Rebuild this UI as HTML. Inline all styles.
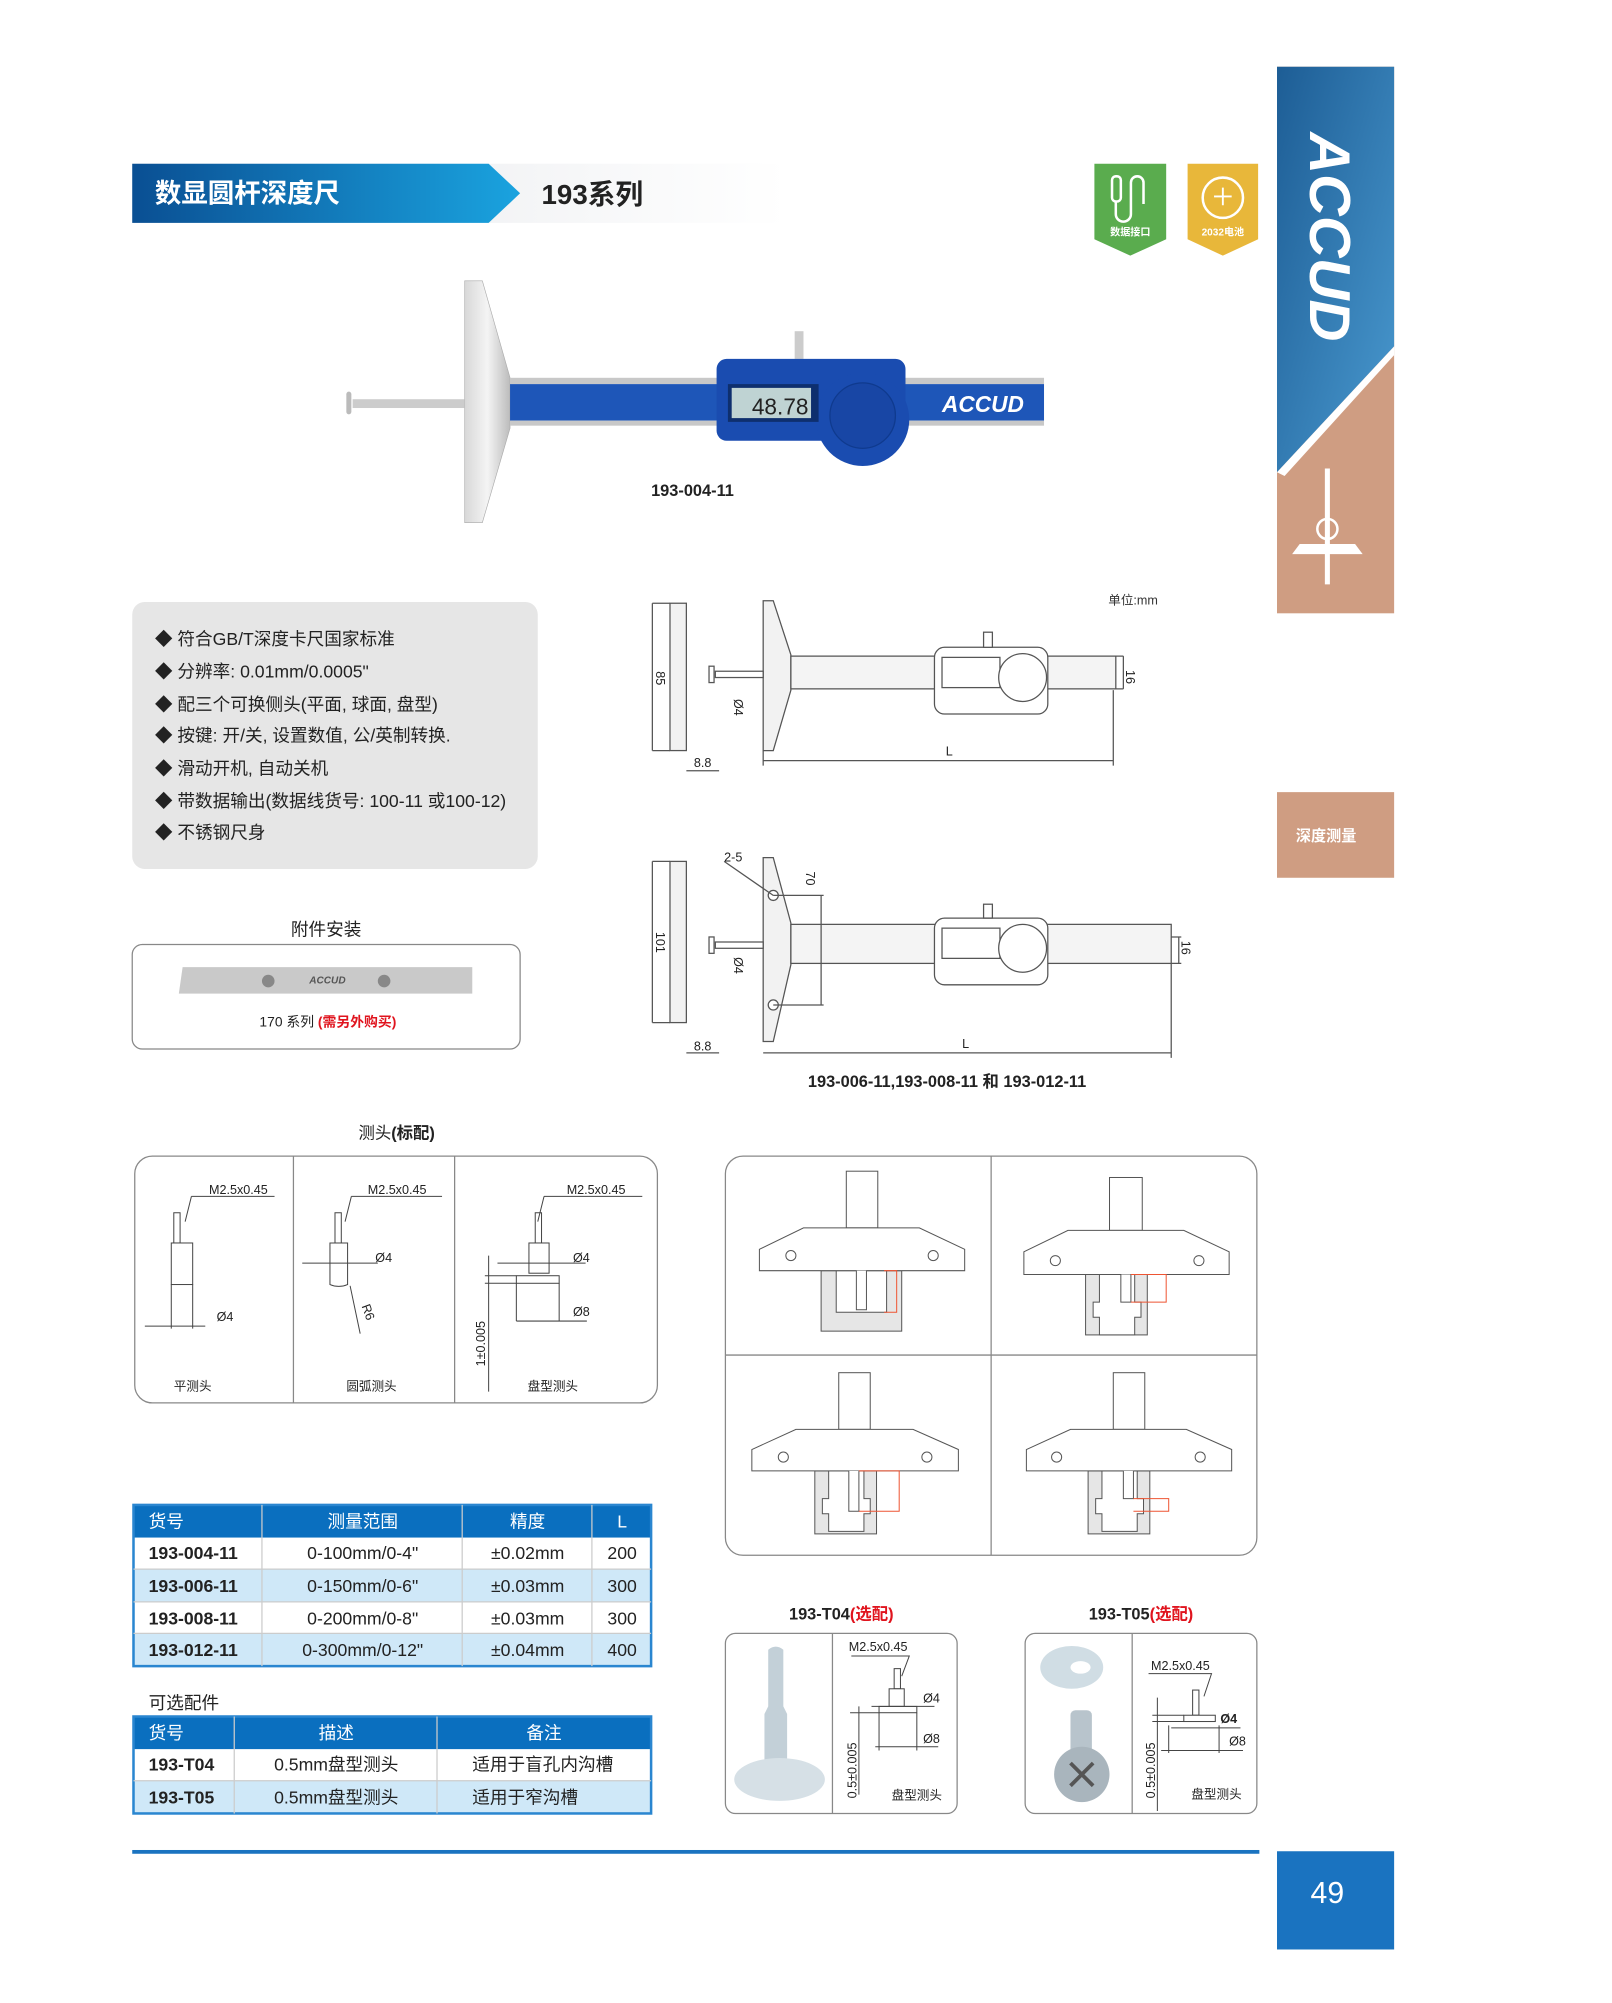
<!DOCTYPE html>
<html><head><meta charset="utf-8"><style>
html,body{margin:0;padding:0;background:#fff}
svg{display:block}
text{font-family:"Liberation Sans","Noto Sans CJK SC",sans-serif}
</style></head><body>
<svg width="1612" height="2003" viewBox="0 0 1280 1590.5" preserveAspectRatio="none" xmlns="http://www.w3.org/2000/svg">
<defs>
<linearGradient id="hb" x1="0" x2="1"><stop offset="0" stop-color="#0a4f93"/><stop offset="1" stop-color="#1aa3df"/></linearGradient>
<linearGradient id="hg" x1="0" x2="1"><stop offset="0" stop-color="#e4e6ea"/><stop offset="1" stop-color="#ffffff"/></linearGradient>
<linearGradient id="sb" x1="0" x2="1" y1="0" y2="1"><stop offset="0" stop-color="#1d5d95"/><stop offset="1" stop-color="#4a9ad0"/></linearGradient>
<linearGradient id="pl" x1="0" x2="1"><stop offset="0" stop-color="#d8d8d8"/><stop offset="0.5" stop-color="#f4f4f4"/><stop offset="1" stop-color="#bcbcbc"/></linearGradient>
</defs>
<rect x="105" y="130" width="520" height="47" fill="url(#hg)"/>
<polygon points="105,130 388,130 413,153.5 388,177 105,177" fill="url(#hb)"/>
<text x="123" y="161" font-size="21" font-weight="bold" fill="#fff">数显圆杆深度尺</text>
<text x="430" y="162" font-size="22" font-weight="bold" fill="#222">193系列</text>
<polygon points="869,130 926,130 926,190 897.5,203 869,190" fill="#5aac4e"/>
<rect x="883" y="140" width="7" height="20" rx="3" fill="none" stroke="#fff" stroke-width="2"/>
<path d="M886,160 v10 a6,6 0 0 0 12,0 v-25 a5,5 0 0 1 10,0 v17" fill="none" stroke="#fff" stroke-width="2"/>
<text x="897.5" y="187" font-size="8" fill="#fff" text-anchor="middle" font-weight="bold">数据接口</text>
<polygon points="943,130 999,130 999,190 971,203 943,190" fill="#e8b73a"/>
<circle cx="971" cy="157" r="16" fill="none" stroke="#fff" stroke-width="2"/>
<path d="M971,149 v14 M964,156 h14" stroke="#fff" stroke-width="1.5"/>
<text x="971" y="187" font-size="8" fill="#fff" text-anchor="middle" font-weight="bold">2032电池</text>
<rect x="1014" y="53" width="93" height="434" fill="#cf9d82"/>
<polygon points="1014,53 1107,53 1107,275 1014,375" fill="url(#sb)"/>
<polygon points="1014,375 1107,275 1107,282 1020,378" fill="#fff"/>
<text transform="translate(1040,105) rotate(90)" font-size="46" font-weight="bold" font-style="italic" fill="#fff">ACCUD</text>
<path d="M1054,372 v92" stroke="#fff" stroke-width="4"/>
<path d="M1026,440 h56 l-6,-8 h-44 z" fill="#fff"/>
<circle cx="1054" cy="420" r="8" fill="none" stroke="#fff" stroke-width="2"/>
<rect x="1014" y="629" width="93" height="68" fill="#cf9d82"/>
<text x="1053" y="668" font-size="12" fill="#fff" text-anchor="middle" font-weight="bold">深度测量</text>
<rect x="1014" y="1470" width="93" height="78" fill="#1a73c0"/>
<text x="1054" y="1511" font-size="24" fill="#fff" text-anchor="middle">49</text>
<rect x="105" y="1469" width="895" height="3" fill="#1a73c0"/>
<polygon points="369,223 383,223 405,300 405,340 383,415 369,415" fill="url(#pl)" stroke="#aaa" stroke-width="0.5"/>
<rect x="280" y="317" width="89" height="7" fill="#ccc"/>
<rect x="275" y="311" width="4" height="18" rx="2" fill="#bbb"/>
<rect x="405" y="300" width="424" height="5" fill="#c8c8c8"/>
<rect x="405" y="305" width="424" height="29" fill="#1e56b8"/>
<rect x="405" y="334" width="424" height="4" fill="#c8c8c8"/>
<rect x="631" y="263" width="7" height="22" fill="#ccc"/>
<rect x="569" y="285" width="150" height="65" rx="8" fill="#1a4cb0"/>
<circle cx="685" cy="333" r="37" fill="#1a4cb0"/>
<circle cx="685" cy="330" r="26" fill="#1846a5" stroke="#0f3a8e"/>
<rect x="578" y="305" width="72" height="30" fill="#0e2f6e"/>
<rect x="581" y="308" width="63" height="24" fill="#bfd3d3"/>
<text x="597" y="329" font-size="18" fill="#222">48.78</text>
<text x="748" y="327" font-size="18" font-weight="bold" font-style="italic" fill="#fff">ACCUD</text>
<text x="517" y="394" font-size="13" font-weight="bold" fill="#222">193-004-11</text>
<rect x="105" y="478" width="322" height="212" rx="10" fill="#e6e6e6"/>
<g font-size="14" fill="#222">
<text x="123" y="512">◆ 符合GB/T深度卡尺国家标准</text>
<text x="123" y="538">◆ 分辨率: 0.01mm/0.0005"</text>
<text x="123" y="564">◆ 配三个可换侧头(平面, 球面, 盘型)</text>
<text x="123" y="589">◆ 按键: 开/关, 设置数值, 公/英制转换.</text>
<text x="123" y="615">◆ 滑动开机, 自动关机</text>
<text x="123" y="641">◆ 带数据输出(数据线货号: 100-11 或100-12)</text>
<text x="123" y="666">◆ 不锈钢尺身</text>
</g>
<text x="259" y="743" font-size="14" fill="#222" text-anchor="middle">附件安装</text>
<rect x="105" y="750" width="308" height="83" rx="8" fill="#fff" stroke="#888"/>
<polygon points="145,768 375,768 375,789 142,789" fill="#c9c9c9"/>
<circle cx="213" cy="779" r="5" fill="#888"/><circle cx="305" cy="779" r="5" fill="#888"/>
<text x="260" y="781" font-size="8" font-weight="bold" font-style="italic" fill="#555" text-anchor="middle">ACCUD</text>
<text x="206" y="815" font-size="11" fill="#222">170 系列 <tspan fill="#e0141e" font-weight="bold">(需另外购买)</tspan></text>
<g stroke="#555" stroke-width="1" fill="#fff">
<text x="880" y="480" font-size="10" fill="#333" stroke="none">单位:mm</text>
<rect x="532" y="479" width="13" height="117" fill="#f2f2f2"/>
<path d="M518,479 v117 M518,479 h14 M518,596 h14" fill="none"/>
<polygon points="606,477 614,477 628,520 628,548 614,596 606,596" fill="#f2f2f2"/>
<rect x="568" y="533" width="38" height="5"/><rect x="563" y="529" width="4" height="13"/>
<rect x="628" y="521" width="258" height="26" fill="#f4f4f4"/>
<rect x="742" y="514" width="90" height="53" rx="8"/>
<rect x="748" y="522" width="46" height="24"/><circle cx="812" cy="538" r="19"/>
<rect x="781" y="502" width="7" height="12"/>
<path d="M545,612 h26 M606,604 h278 M606,596 v12 M884,548 v60 M886,521 h6 M886,547 h6 M892,521 v26" fill="none"/>
</g>
<g font-size="10" fill="#222">
<text transform="translate(521,533) rotate(90)">85</text>
<text transform="translate(583,555) rotate(90)">Ø4</text>
<text x="551" y="609">8.8</text><text x="751" y="600">L</text>
<text transform="translate(894,532) rotate(90)">16</text>
</g>
<g stroke="#555" stroke-width="1" fill="#fff">
<rect x="532" y="684" width="13" height="128" fill="#f2f2f2"/>
<path d="M518,684 v128 M518,684 h14 M518,812 h14" fill="none"/>
<polygon points="606,681 614,681 628,733 628,766 614,827 606,827" fill="#f2f2f2"/>
<rect x="568" y="748" width="38" height="5"/><rect x="563" y="744" width="4" height="13"/>
<rect x="628" y="734" width="302" height="31" fill="#f4f4f4"/>
<rect x="742" y="729" width="90" height="53" rx="8"/>
<rect x="748" y="737" width="46" height="24"/><circle cx="812" cy="753" r="19"/>
<rect x="781" y="718" width="7" height="11"/>
<circle cx="614" cy="711" r="4"/><circle cx="614" cy="798" r="4"/>
<path d="M614,711 h40 M614,798 h40 M652,711 v87 M545,836 h26 M606,836 h324 M930,765 v75 M930,744 h8 M930,765 h8 M936,744 v21 M575,684 l39,27" fill="none"/>
</g>
<g font-size="10" fill="#222">
<text transform="translate(521,740) rotate(90)">101</text>
<text transform="translate(583,760) rotate(90)">Ø4</text>
<text x="551" y="834">8.8</text><text x="764" y="832">L</text>
<text x="575" y="684">2-5</text>
<text transform="translate(640,692) rotate(90)">70</text>
<text transform="translate(938,747) rotate(90)">16</text>
</g>
<text x="752" y="863" font-size="13" font-weight="bold" fill="#222" text-anchor="middle">193-006-11,193-008-11 和 193-012-11</text>
<text x="315" y="904" font-size="13" fill="#222" text-anchor="middle">测头<tspan font-weight="bold">(标配)</tspan></text>
<rect x="107" y="918" width="415" height="196" rx="14" fill="#fff" stroke="#888"/>
<path d="M233,918 v196 M361,918 v196" stroke="#888"/>
<g stroke="#444" stroke-width="0.8" fill="#fff">
<rect x="138" y="963" width="5" height="24"/><rect x="136" y="987" width="17" height="33"/>
<path d="M136,1020 v35 M153,1020 v35 M115,1053 h48 M152,950 h66 M152,950 l-5,20" fill="none"/>
<rect x="266" y="963" width="5" height="24"/><path d="M262,987 h14 v33 q-7,3 -14,0 z"/>
<path d="M240,1003 h60 M278,1021 l8,38 M279,950 h72 M279,950 l-5,20" fill="none"/>
<rect x="425" y="963" width="5" height="24"/><rect x="420" y="987" width="16" height="24"/><rect x="410" y="1013" width="34" height="6"/>
<path d="M395,1003 h70 M410,1019 v30 M444,1019 v30 M410,1049 h56 M388,997 v108 M385,1013 h25 M385,1019 h25 M432,950 h78 M432,950 l-5,20" fill="none"/>
</g>
<g font-size="10" fill="#222">
<text x="166" y="948">M2.5x0.45</text><text x="172" y="1049">Ø4</text><text x="138" y="1104">平测头</text>
<text x="292" y="948">M2.5x0.45</text><text x="298" y="1002">Ø4</text>
<text transform="translate(287,1037) rotate(70)">R6</text><text x="275" y="1104">圆弧测头</text>
<text x="450" y="948">M2.5x0.45</text><text x="455" y="1002">Ø4</text><text x="455" y="1045">Ø8</text>
<text transform="translate(385,1085) rotate(-90)">1±0.005</text><text x="419" y="1104">盘型测头</text>
</g>
<rect x="576" y="918" width="422" height="317" rx="14" fill="#fff" stroke="#888"/>
<path d="M787,918 v317 M576,1076 h422" stroke="#888"/>
<g stroke="#555" stroke-width="0.8" fill="#fff">
<g><rect x="652" y="1009" width="64" height="48" fill="#e6e6e6"/><rect x="664" y="1009" width="40" height="33"/>
<rect x="672" y="930" width="25" height="45"/><polygon points="638,975 730,975 766,992 766,1009 603,1009 603,992"/>
<circle cx="628" cy="997" r="4"/><circle cx="741" cy="997" r="4"/><path d="M680,1009 v31 h8 v-31" /><path d="M702,1009 h10 v33 h-10" stroke="#e53" fill="none"/></g>
<g><rect x="862" y="1012" width="49" height="48" fill="#e6e6e6"/><path d="M873,1012 v22 h-5 v12 h5 v14 h28 v-14 h5 v-12 h-5 v-22 z"/>
<rect x="881" y="935" width="26" height="42"/><polygon points="848,977 940,977 976,994 976,1012 813,1012 813,994"/>
<circle cx="838" cy="1001" r="4"/><circle cx="952" cy="1001" r="4"/><path d="M890,1012 v22 h8 v-22" /><path d="M898,1012 h28 v22 h-28" stroke="#e53" fill="none"/></g>
<g><rect x="647" y="1168" width="49" height="50" fill="#e6e6e6"/><path d="M658,1168 v22 h-5 v12 h5 v14 h28 v-14 h5 v-12 h-5 v-22 z"/>
<rect x="666" y="1090" width="25" height="45"/><polygon points="632,1135 725,1135 761,1151 761,1168 597,1168 597,1151"/>
<circle cx="622" cy="1157" r="4"/><circle cx="736" cy="1157" r="4"/><path d="M674,1168 v32 h8 v-32"/><path d="M682,1168 h32 v32 h-32" stroke="#e53" fill="none"/></g>
<g><rect x="864" y="1168" width="49" height="50" fill="#e6e6e6"/><path d="M875,1168 v22 h-5 v12 h5 v14 h28 v-14 h5 v-12 h-5 v-22 z"/>
<rect x="884" y="1090" width="25" height="45"/><polygon points="850,1135 942,1135 978,1151 978,1168 815,1168 815,1151"/>
<circle cx="839" cy="1157" r="4"/><circle cx="953" cy="1157" r="4"/><path d="M892,1168 v22 h8 v-22"/><path d="M900,1190 h28 v10 h-28" stroke="#e53" fill="none"/></g>
</g>
<g font-size="14" fill="#222">
<rect x="106" y="1195" width="411" height="26" fill="#0a6fbf"/>
<rect x="106" y="1221" width="411" height="25" fill="#fff"/>
<rect x="106" y="1246" width="411" height="26" fill="#cfe8f8"/>
<rect x="106" y="1272" width="411" height="25" fill="#fff"/>
<rect x="106" y="1297" width="411" height="26" fill="#cfe8f8"/>
<rect x="106" y="1195" width="411" height="128" fill="none" stroke="#2a86d0" stroke-width="2"/>
<path d="M106,1246 h411 M106,1272 h411 M106,1297 h411" stroke="#ccc"/>
<path d="M208,1195 v128 M367,1195 v128 M470,1195 v128" stroke="#ccc"/>
<g fill="#fff"><text x="118" y="1213">货号</text><text x="288" y="1213" text-anchor="middle">测量范围</text><text x="419" y="1213" text-anchor="middle">精度</text><text x="494" y="1213" text-anchor="middle">L</text></g>
<g font-weight="bold"><text x="118" y="1238">193-004-11</text><text x="118" y="1264">193-006-11</text><text x="118" y="1290">193-008-11</text><text x="118" y="1315">193-012-11</text></g>
<g text-anchor="middle"><text x="288" y="1238">0-100mm/0-4"</text><text x="288" y="1264">0-150mm/0-6"</text><text x="288" y="1290">0-200mm/0-8"</text><text x="288" y="1315">0-300mm/0-12"</text>
<text x="419" y="1238">±0.02mm</text><text x="419" y="1264">±0.03mm</text><text x="419" y="1290">±0.03mm</text><text x="419" y="1315">±0.04mm</text>
<text x="494" y="1238">200</text><text x="494" y="1264">300</text><text x="494" y="1290">300</text><text x="494" y="1315">400</text></g>
<text x="118" y="1357">可选配件</text>
<rect x="106" y="1363" width="411" height="26" fill="#0a6fbf"/>
<rect x="106" y="1389" width="411" height="25" fill="#fff"/>
<rect x="106" y="1414" width="411" height="26" fill="#cfe8f8"/>
<rect x="106" y="1363" width="411" height="77" fill="none" stroke="#2a86d0" stroke-width="2"/>
<path d="M106,1414 h411 M186,1363 v77 M347,1363 v77" stroke="#ccc"/>
<g fill="#fff"><text x="118" y="1381">货号</text><text x="267" y="1381" text-anchor="middle">描述</text><text x="432" y="1381" text-anchor="middle">备注</text></g>
<text x="118" y="1406" font-weight="bold">193-T04</text><text x="118" y="1432" font-weight="bold">193-T05</text>
<text x="267" y="1406" text-anchor="middle">0.5mm盘型测头</text><text x="267" y="1432" text-anchor="middle">0.5mm盘型测头</text>
<text x="375" y="1406">适用于盲孔内沟槽</text><text x="375" y="1432">适用于窄沟槽</text>
</g>
<text x="668" y="1286" font-size="13" font-weight="bold" fill="#222" text-anchor="middle">193-T04<tspan fill="#e0141e">(选配)</tspan></text>
<text x="906" y="1286" font-size="13" font-weight="bold" fill="#222" text-anchor="middle">193-T05<tspan fill="#e0141e">(选配)</tspan></text>
<rect x="576" y="1297" width="184" height="143" rx="8" fill="#fff" stroke="#888"/>
<path d="M661,1297 v143" stroke="#888"/>
<rect x="814" y="1297" width="184" height="143" rx="8" fill="#fff" stroke="#888"/>
<path d="M899,1297 v143" stroke="#888"/>
<path d="M610,1310 q6,-5 12,0 v45 l3,6 v62 h-18 v-62 l3,-6 z" fill="#c3d0d8"/>
<ellipse cx="619" cy="1413" rx="36" ry="17" fill="#d6e0e6"/>
<ellipse cx="851" cy="1324" rx="25" ry="17" fill="#d0dde4"/><ellipse cx="858" cy="1324" rx="8" ry="5" fill="#fff"/>
<rect x="850" y="1358" width="17" height="40" rx="4" fill="#b8c4cc"/>
<circle cx="859" cy="1409" r="22" fill="#a9b5bd"/><path d="M850,1400 l18,18 M868,1400 l-18,18" stroke="#555" stroke-width="3"/>
<g stroke="#444" stroke-width="0.8" fill="#fff">
<rect x="710" y="1325" width="5" height="16"/><rect x="706" y="1341" width="12" height="14"/><rect x="698" y="1355" width="30" height="5"/>
<path d="M676,1315 h46 l-6,16 M682,1355 v70 M675,1360 h23 M692,1355 h50 M698,1360 v30 M728,1360 v30 M695,1387 h50" fill="none"/>
<rect x="947" y="1342" width="5" height="20"/><rect x="940" y="1362" width="25" height="5"/>
<path d="M912,1329 h50 l-6,18 M919,1348 v90 M915,1362 h25 M915,1367 h25 M928,1370 v22 M968,1370 v22 M930,1372 h55 M922,1390 h65" fill="none"/>
</g>
<g font-size="10" fill="#222">
<text x="674" y="1311">M2.5x0.45</text><text x="733" y="1352">Ø4</text><text x="733" y="1384">Ø8</text>
<text transform="translate(680,1428) rotate(-90)">0.5±0.005</text><text x="708" y="1429">盘型测头</text>
<text x="914" y="1326">M2.5x0.45</text><text x="969" y="1368" font-weight="bold">Ø4</text><text x="976" y="1386">Ø8</text>
<text transform="translate(917,1428) rotate(-90)">0.5±0.005</text><text x="946" y="1428">盘型测头</text>
</g>
</svg>
</body></html>
